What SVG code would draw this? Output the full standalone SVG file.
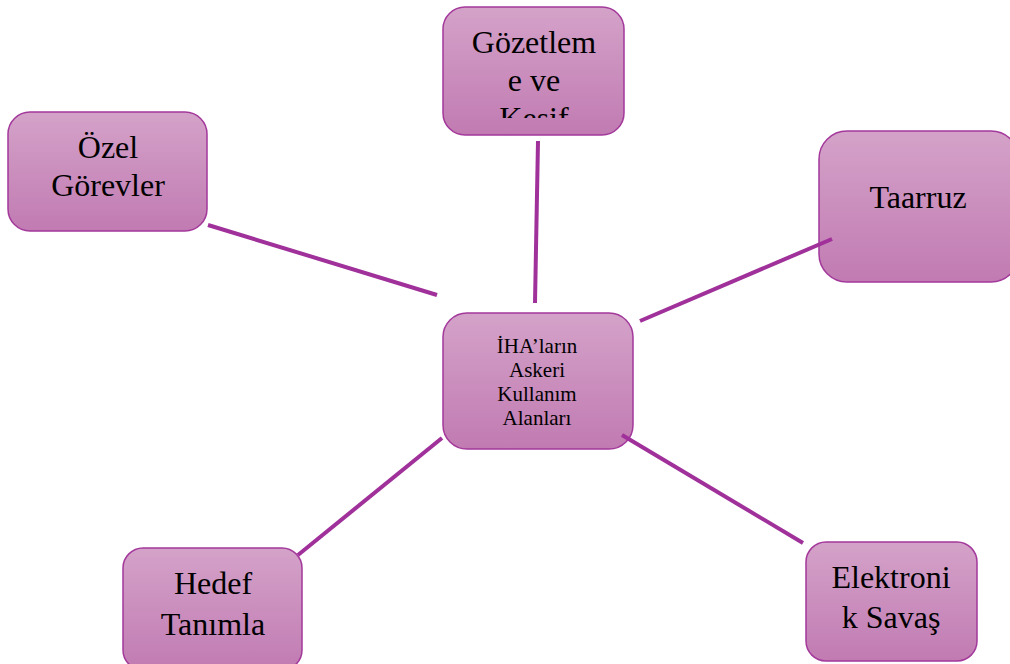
<svg xmlns="http://www.w3.org/2000/svg" width="1010" height="664" viewBox="0 0 1010 664">
<defs>
<linearGradient id="g" x1="0" y1="0" x2="0" y2="1">
<stop offset="0" stop-color="#d4a2c9"/>
<stop offset="1" stop-color="#c17bb2"/>
</linearGradient>
<clipPath id="clipTop"><rect x="443" y="7" width="181" height="111"/></clipPath>
</defs>
<style>
.box{fill:url(#g);stroke:#a3399b;stroke-width:1.5}
text{font-family:'Liberation Serif','Times New Roman','DejaVu Serif',serif;fill:#000;text-anchor:middle}
.t{font-size:32px}
.s{font-size:21px}
.c{stroke:#a0309a;stroke-width:4;fill:none}
</style>
<rect width="1010" height="664" fill="#fff"/>
<g id="node-top">
<rect class="box" x="443" y="7" width="181" height="128" rx="22"/>
<g clip-path="url(#clipTop)">
<text class="t" x="534" y="53">Gözetlem</text>
<text class="t" x="534" y="91">e ve</text>
<text class="t" x="534" y="129">Keşif</text>
</g>
</g>
<g id="node-ozel">
<rect class="box" x="8" y="112" width="199" height="119" rx="22"/>
<text class="t" x="108" y="158">Özel</text>
<text class="t" x="108" y="196">Görevler</text>
</g>
<g id="node-taarruz">
<rect class="box" x="819" y="131" width="200" height="151" rx="28"/>
<text class="t" x="918" y="208">Taarruz</text>
</g>
<g id="node-center">
<rect class="box" x="443" y="313" width="190" height="136" rx="24"/>
<text class="s" x="537" y="353">İHA’ların</text>
<text class="s" x="537" y="377">Askeri</text>
<text class="s" x="537" y="401">Kullanım</text>
<text class="s" x="537" y="425">Alanları</text>
</g>
<g id="node-hedef">
<rect class="box" x="123" y="548" width="179" height="122" rx="20"/>
<text class="t" x="213" y="594">Hedef</text>
<text class="t" x="213" y="635">Tanımla</text>
</g>
<g id="node-elektronik">
<rect class="box" x="806" y="542" width="171" height="119" rx="20"/>
<text class="t" x="891" y="588">Elektroni</text>
<text class="t" x="891" y="628">k Savaş</text>
</g>
<g id="connectors">
<line class="c" x1="538" y1="141" x2="535" y2="303"/>
<line class="c" x1="208" y1="225" x2="437" y2="295"/>
<line class="c" x1="832" y1="239" x2="640" y2="321"/>
<line class="c" x1="442" y1="438" x2="298" y2="555"/>
<line class="c" x1="622" y1="435" x2="803" y2="543"/>
</g>
</svg>
